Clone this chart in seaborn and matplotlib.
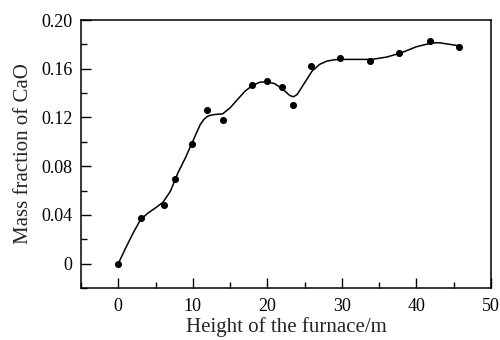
import matplotlib
matplotlib.use("Agg")
import matplotlib.pyplot as plt
import seaborn as sns
import pandas as pd
from matplotlib.ticker import MultipleLocator, FuncFormatter

# Measured points
height = [0, 3.0, 6.1, 7.6, 9.9, 11.9, 14.0, 17.9, 19.9, 21.9, 23.4, 25.8, 29.8, 33.8, 37.7, 41.8, 45.7]
cao = [0.0, 0.0375, 0.0485, 0.0693, 0.0986, 0.1263, 0.1178, 0.1468, 0.1501, 0.1449, 0.1301,
       0.1619, 0.1688, 0.1663, 0.1726, 0.1825, 0.1778]

# Fitted curve
curve_x = [0, 1, 2, 3, 4, 5, 6, 7, 8, 9, 10, 10.5, 11, 11.5, 12, 12.5, 13, 14, 15, 16, 17, 18, 19, 20, 21, 22, 23,
           23.5, 24, 25, 26, 27, 28, 29, 30, 32, 34, 36, 38, 40, 42, 43, 44, 46]
curve_y = [0.0, 0.0129, 0.0252, 0.0362, 0.0416, 0.0458, 0.0504, 0.0595, 0.0745, 0.0868, 0.1005,
           0.1075, 0.1142, 0.1185, 0.1211, 0.1220, 0.1225, 0.1230, 0.1279, 0.1348, 0.1416, 0.1463, 0.1490,
           0.1493, 0.1477, 0.1436, 0.1381, 0.1370, 0.1389, 0.1485, 0.1581, 0.1636, 0.1663, 0.1674,
           0.1677, 0.1677, 0.1677, 0.1696, 0.1732, 0.1781, 0.1811, 0.1814, 0.1805, 0.1786]

sns.set_theme(style="ticks")
plt.rcParams['font.family'] = ['Liberation Serif', 'DejaVu Serif']

fig = plt.figure(figsize=(5, 3.4), dpi=100)
ax = fig.add_axes([0.162, 0.153, 0.82, 0.788])

pts = pd.DataFrame({"x": height, "y": cao})
crv = pd.DataFrame({"x": curve_x, "y": curve_y})

sns.lineplot(data=crv, x="x", y="y", ax=ax, color="black", linewidth=1.1, sort=True, estimator=None)
sns.scatterplot(data=pts, x="x", y="y", ax=ax, color="black", s=26, edgecolor="black", linewidth=0, zorder=3)

ax.set_xlim(-5, 50)
ax.set_ylim(-0.02, 0.20)
ax.xaxis.set_major_locator(MultipleLocator(10))
ax.xaxis.set_minor_locator(MultipleLocator(5))
ax.yaxis.set_minor_locator(MultipleLocator(0.02))
ax.set_yticks([0, 0.04, 0.08, 0.12, 0.16, 0.20])
ax.yaxis.set_major_formatter(FuncFormatter(lambda v, p: "0" if abs(v) < 1e-9 else f"{v:.2f}"))

ax.tick_params(which="both", direction="in", top=False, right=False, colors="black",
               labelsize=13, width=1)
ax.tick_params(which="major", length=7)
ax.tick_params(which="minor", length=4)
ax.tick_params(axis="x", pad=7)
ax.tick_params(axis="y", pad=6)

for s in ax.spines.values():
    s.set_visible(True)
    s.set_color("black")
    s.set_linewidth(1.1)

ax.set_xlabel("Height of the furnace/m", fontsize=15, labelpad=2)
ax.set_ylabel("Mass fraction of CaO", fontsize=15, labelpad=6)

fig.savefig("out.png", dpi=100)
